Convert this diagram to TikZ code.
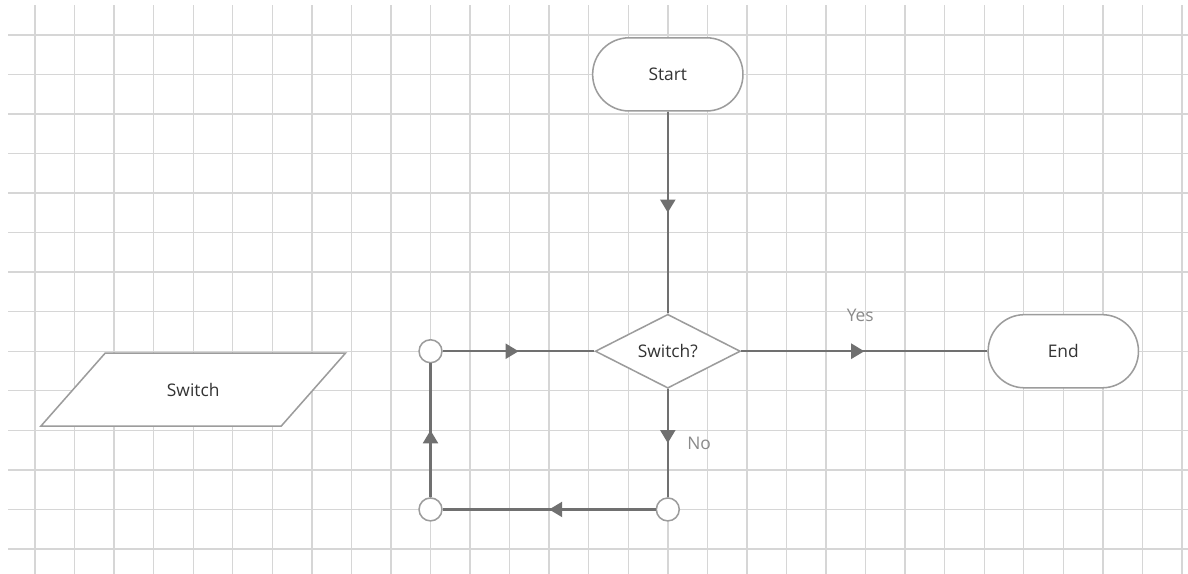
\documentclass[tikz,border=0pt]{standalone}
\usepackage{fontspec}
\setmainfont{Open Sans}
\usepackage{tikz}
\usetikzlibrary{shapes.geometric,arrows.meta,decorations.markings}

\definecolor{gridgray}{HTML}{D6D6D6}
\definecolor{linegray}{HTML}{707070}
\definecolor{boxgray}{HTML}{9C9C9C}
\definecolor{textgray}{HTML}{333333}
\definecolor{labelgray}{HTML}{8A8A8A}

\begin{document}
\begin{tikzpicture}[
  font=\fontsize{12.5}{15}\selectfont,
  terminal/.style={draw=boxgray, line width=1.1pt, fill=white, rounded corners=0.92cm,
    minimum width=3.8cm, minimum height=1.85cm, text=textgray},
  decision/.style={diamond, draw=boxgray, line width=1.1pt, fill=white, aspect=2, inner sep=0pt,
    minimum width=3.67cm, minimum height=1.87cm, text=textgray},
  datainput/.style={trapezium, trapezium left angle=45, trapezium right angle=135,
    trapezium stretches=true, draw=boxgray, line width=1.1pt, fill=white,
    minimum width=7.76cm, minimum height=1.85cm, text=textgray},
  joint/.style={circle, draw=boxgray, line width=1.1pt, fill=white, minimum size=0.58cm, inner sep=0pt},
  flow/.style={draw=linegray, line width=1.6pt, postaction={decorate},
    decoration={markings, mark=at position 0.5 with {\arrow[linegray]{Triangle[length=0.33cm,width=0.38cm]}}}},
  lbl/.style={text=labelgray}
]
%Paper
\fill[white] (-0.885,-0.632) rectangle (29.153,13.881);
\useasboundingbox (-0.885,-0.632) rectangle (29.153,13.881);
\draw[gridgray, line width=1pt] (-0.68,-0.632) grid (29.153,13.75);

%Shapes
\node[terminal] (start) at (16,12) {Start};
\node[decision] (check) at (16,5) {Switch?};
\node[terminal] (end) at (26,5) {End};
\node[datainput] (switch) at (4,4.03) {Switch};
\node[joint] (loopa) at (10,5) {};
\node[joint] (loopb) at (10,1) {};
\node[joint] (loopc) at (16,1) {};

%Flow
\draw[flow] (start) -- (check);
\draw[flow] (check) -- (end) node[lbl, midway, above=0.6cm, xshift=-0.1cm] (yes) {Yes};
\draw[flow] (check) -- (loopc) node[lbl, midway, right=0.35cm] (no) {No};
\draw[flow] (loopc) -- (loopb);
\draw[flow] (loopb) -- (loopa);
\draw[flow] (loopa) -- (check);

\end{tikzpicture}
\end{document}
